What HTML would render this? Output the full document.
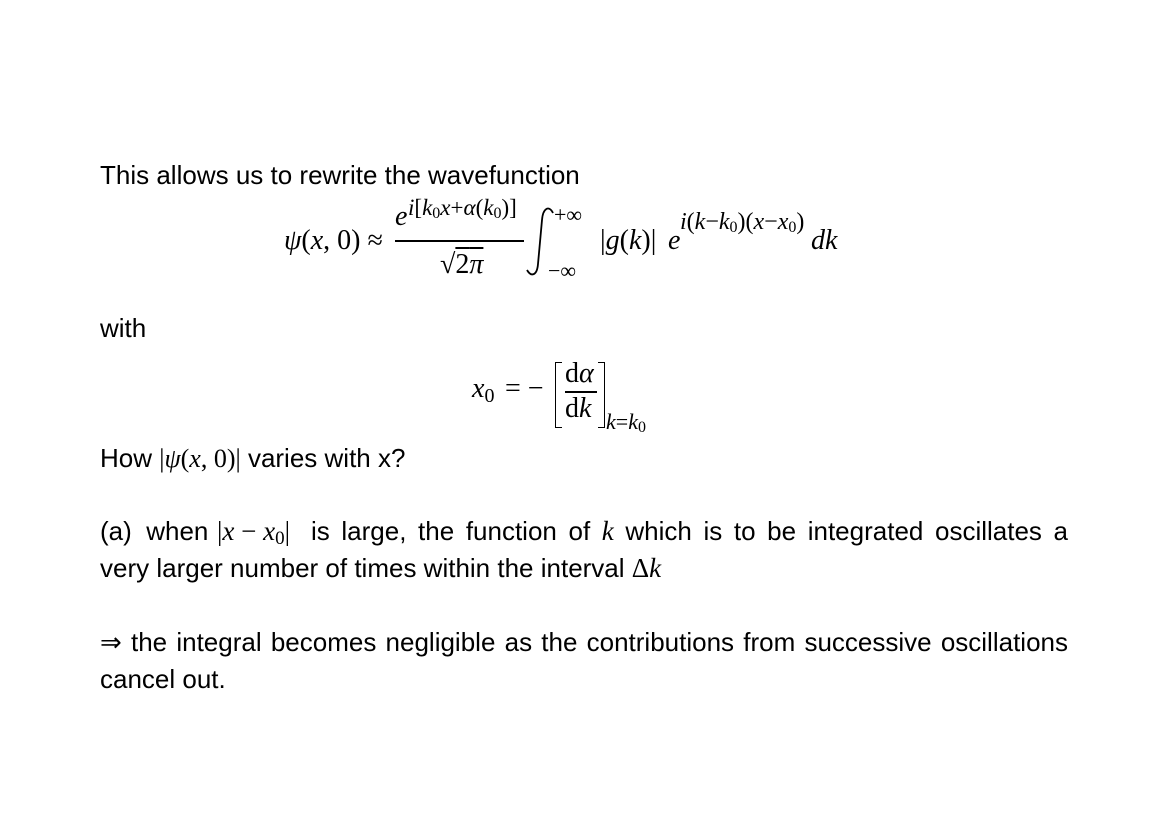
<!DOCTYPE html>
<html><head><meta charset="utf-8"><style>
body{margin:0;background:#fff;width:1169px;height:826px;position:relative;overflow:hidden;color:#000}
.s{position:absolute;font-family:"Liberation Sans",sans-serif;font-size:26px;line-height:26px;white-space:nowrap}
.m{position:absolute;font-family:"Liberation Serif",serif;font-size:28px;line-height:28px;white-space:nowrap}
.ms{position:absolute;font-family:"Liberation Serif",serif;font-size:22px;line-height:22px;white-space:nowrap}
.ms span{font-size:16px;position:relative;top:3px}
i{font-style:italic}
.j{text-align:justify;text-align-last:justify;white-space:normal}
.ser{font-family:"Liberation Serif",serif;font-size:27px}
</style></head><body>
<div class="s" style="left:100px;top:162px">This allows us to rewrite the wavefunction</div>

<div class="m" style="left:284px;top:227px"><i>ψ</i>(<i>x</i>, 0) ≈</div>
<div class="m" style="left:395px;top:203px"><i>e</i></div>
<div class="ms" style="left:408px;top:196px;font-size:23px;line-height:23px"><i>i</i>[<i>k</i><span>0</span><i>x</i>+<i>α</i>(<i>k</i><span>0</span>)]</div>
<div style="position:absolute;left:395px;top:240px;width:129px;height:1.5px;background:#000"></div>
<div class="m" style="left:440px;top:251px">√<span style="text-decoration:overline">2<i>π</i></span></div>
<svg style="position:absolute;left:0;top:0" width="1169" height="826"><path d="M553 213 C549 205 543 208 542 220 L538 264 C537 276 531 277 527 270" fill="none" stroke="#000" stroke-width="1.8"/></svg>
<div class="ms" style="left:554px;top:204px">+∞</div>
<div class="ms" style="left:548px;top:260px">−∞</div>
<div class="m" style="left:600px;top:227px">|<i>g</i>(<i>k</i>)|</div>
<div class="m" style="left:668px;top:227px"><i>e</i></div>
<div class="ms" style="left:680px;top:210px;font-size:24px;line-height:24px"><i>i</i>(<i>k</i>−<i>k</i><span>0</span>)(<i>x</i>−<i>x</i><span>0</span>)</div>
<div class="m" style="left:811px;top:227px"><i>dk</i></div>

<div class="s" style="left:100px;top:315px">with</div>

<div class="m" style="left:472px;top:375px"><i>x</i><span style="font-size:20px;position:relative;top:5px">0</span></div>
<div class="m" style="left:505px;top:375px">= −</div>
<div style="position:absolute;left:555px;top:362px;width:6px;height:64px;border:1.5px solid #000;border-right:none"></div>
<div class="m" style="left:565px;top:360px">d<i>α</i></div>
<div style="position:absolute;left:565px;top:391px;width:32px;height:1.5px;background:#000"></div>
<div class="m" style="left:565px;top:395px">d<i>k</i></div>
<div style="position:absolute;left:598px;top:362px;width:6px;height:64px;border:1.5px solid #000;border-left:none"></div>
<div class="ms" style="left:606px;top:411px"><i>k</i>=<i>k</i><span>0</span></div>

<div class="s" style="left:100px;top:445px">How <span class="ser" style="font-size:26px">|<i>ψ</i>(<i>x</i>, 0)|</span> varies with x?</div>

<div class="s" style="left:100px;top:518px">(a)&nbsp; when</div>
<div class="s" style="left:217px;top:518px"><span class="ser">|<i>x</i> − <i>x</i><span style="font-size:19px;position:relative;top:4px">0</span>|</span></div>
<div class="s j" style="left:311px;top:518px;width:757px">is large, the function of <i class="ser">k</i> which is to be integrated oscillates a</div>
<div class="s" style="left:100px;top:555px">very larger number of times within the interval <span class="ser">Δ<i>k</i></span></div>

<div class="s j" style="left:100px;top:629px;width:968px">⇒ the integral becomes negligible as the contributions from successive oscillations</div>
<div class="s" style="left:100px;top:666px">cancel out.</div>
</body></html>
